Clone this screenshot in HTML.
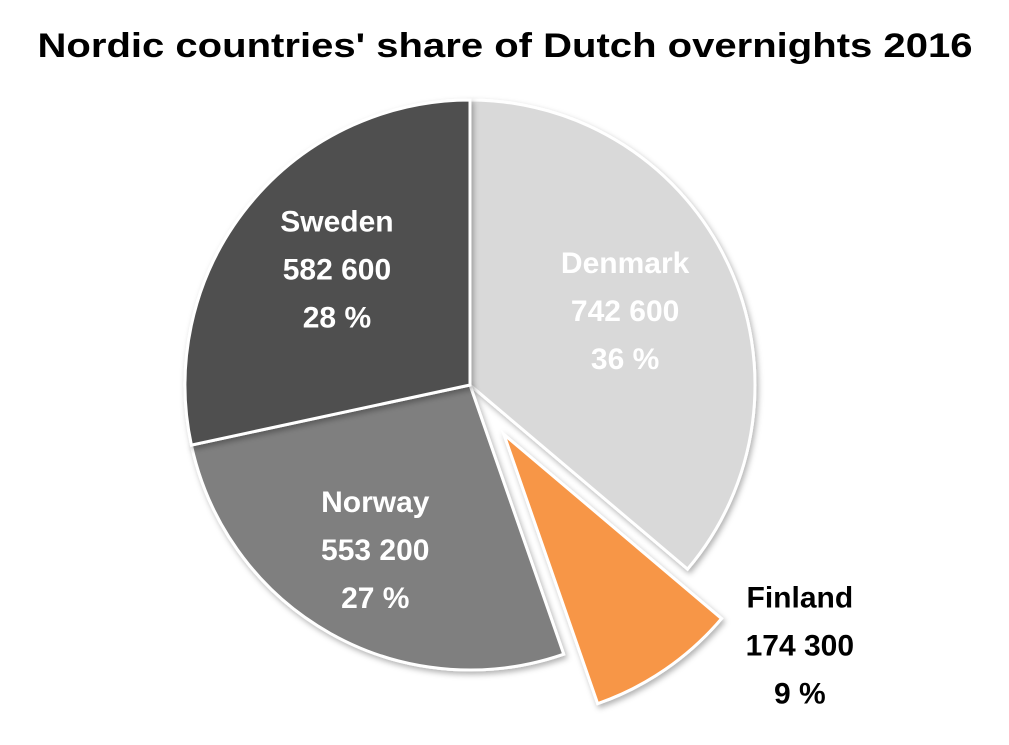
<!DOCTYPE html>
<html><head><meta charset="utf-8"><style>
html,body{margin:0;padding:0;background:#fff;}
svg{display:block;font-family:"Liberation Sans",sans-serif;font-weight:bold;}
</style></head><body>
<svg id="chart" width="1009" height="745" viewBox="0 0 1009 745">
<defs><filter id="sh" x="-20%" y="-20%" width="140%" height="140%"><feDropShadow dx="2" dy="3" stdDeviation="3" flood-color="#000" flood-opacity="0.3"/></filter></defs>
<text x="505" y="57" text-anchor="middle" font-size="34" textLength="935" lengthAdjust="spacingAndGlyphs" fill="#000">Nordic countries' share of Dutch overnights 2016</text>
<g id="slices"></g>
<g id="labels"></g>
</svg>
<script>
const categories = ["Denmark", "Finland", "Norway", "Sweden"];
const values = [742600, 174300, 553200, 582600];
const valueLabels = ["742 600", "174 300", "553 200", "582 600"];
const percentLabels = ["36 %", "9 %", "27 %", "28 %"];
const colors = ["#d9d9d9", "#f79646", "#7f7f7f", "#4f4f4f"];
const textColors = ["#fff", "#000", "#fff", "#fff"];
const explode = [0, 60, 0, 0];
const nudgeX = [0, 133, -11, 0];
const nudgeY = [-3, -27, 15, -9];

const cx = 470, cy = 385, r = 285;
const total = values.reduce((a, b) => a + b, 0);
const ns = "http://www.w3.org/2000/svg";
const gS = document.getElementById("slices"), gL = document.getElementById("labels");
function pt(a, rad, ox, oy) { return [ox + rad * Math.sin(a), oy - rad * Math.cos(a)]; }
let start = 0;
values.forEach((v, i) => {
  const sweep = v / total * 2 * Math.PI;
  const end = start + sweep, mid = start + sweep / 2;
  const ox = cx + explode[i] * Math.sin(mid), oy = cy - explode[i] * Math.cos(mid);
  const p1 = pt(start, r, ox, oy), p2 = pt(end, r, ox, oy);
  const path = document.createElementNS(ns, "path");
  path.setAttribute("d", `M${ox},${oy} L${p1[0]},${p1[1]} A${r},${r} 0 ${sweep > Math.PI ? 1 : 0} 1 ${p2[0]},${p2[1]} Z`);
  path.setAttribute("fill", colors[i]);
  path.setAttribute("stroke", "#fff");
  path.setAttribute("stroke-width", "3");
  path.setAttribute("filter", "url(#sh)");
  
  
  gS.appendChild(path);
  let lp = explode[i] > 0 ? pt(mid, r * 1.22, cx, cy) : pt(mid, r * 0.6, cx, cy);
  const lx = lp[0] + nudgeX[i], ly = lp[1] + nudgeY[i];
  const lines = [categories[i], valueLabels[i], percentLabels[i]];
  const g = document.createElementNS(ns, "g");
  
  
  lines.forEach((t, k) => {
    const tx = document.createElementNS(ns, "text");
    tx.setAttribute("x", lx);
    tx.setAttribute("y", ly + (k - 1) * 48 + 11);
    tx.setAttribute("text-anchor", "middle");
    tx.setAttribute("font-size", "30");
    tx.setAttribute("fill", textColors[i]);
    
    
    tx.textContent = t;
    g.appendChild(tx);
  });
  gL.appendChild(g);
  start = end;
});
</script>
</body></html>
